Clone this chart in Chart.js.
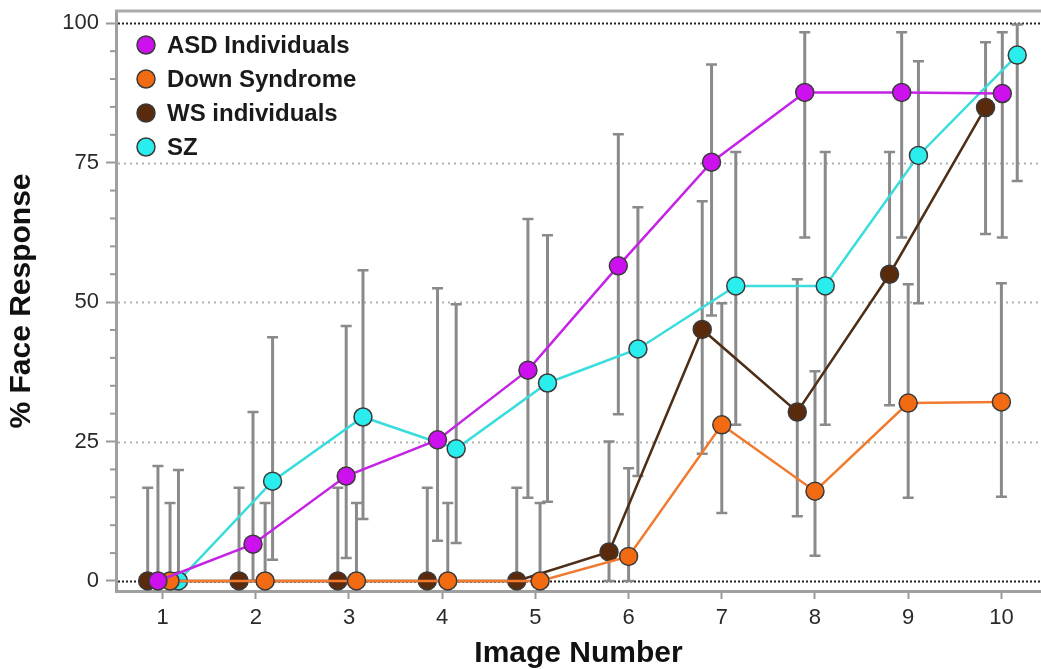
<!DOCTYPE html>
<html>
<head>
<meta charset="utf-8">
<script src="https://cdn.jsdelivr.net/npm/chart.js@4"></script>
<style>
  html, body { margin: 0; padding: 0; background: #fff; }
  #wrap { width: 1041px; height: 669px; }
</style>
</head>
<body>
<div id="wrap"><canvas id="faceChart" width="1041" height="669"></canvas></div>
<script>
// x axis categories
const imageNumbers = [1, 2, 3, 4, 5, 6, 7, 8, 9, 10];
const yMajorTicks = [0, 25, 50, 75, 100];

// ASD Individuals
const asdX = [0.95, 1.97, 2.97, 3.95, 4.92, 5.89, 6.89, 7.89, 8.93, 10.01];
const asdMean = [0, 6.6, 18.8, 25.3, 37.8, 56.5, 75.1, 87.6, 87.6, 87.4];
const asdHigh = [20.6, 30.3, 45.7, 52.5, 64.9, 80.1, 92.6, 98.4, 98.4, 98.4];
const asdLow = [0, 0, 4.1, 7.2, 14.9, 29.9, 47.6, 61.6, 61.6, 61.6];

// Down Syndrome
const dsX = [1.08, 2.10, 3.08, 4.06, 5.05, 6.00, 7.00, 8.00, 9.00, 10.00];
const dsMean = [0, 0, 0, 0, 0, 4.4, 28.0, 16.1, 31.9, 32.1];
const dsHigh = [14.0, 14.0, 14.0, 14.0, 14.0, 20.2, 49.8, 37.6, 53.2, 53.4];
const dsLow = [0, 0, 0, 0, 0, 0, 12.2, 4.5, 14.9, 15.1];

// WS individuals
const wsX = [0.84, 1.82, 2.88, 3.84, 4.80, 5.79, 6.79, 7.81, 8.80, 9.83];
const wsMean = [0, 0, 0, 0, 0, 5.2, 45.1, 30.3, 55.0, 84.9];
const wsHigh = [16.7, 16.7, 16.7, 16.7, 16.7, 25.0, 68.1, 54.1, 76.9, 96.6];
const wsLow = [0, 0, 0, 0, 0, 0, 22.8, 11.6, 31.5, 62.2];

// SZ
const szX = [1.17, 2.18, 3.15, 4.15, 5.13, 6.10, 7.15, 8.11, 9.11, 10.17];
const szMean = [0, 17.9, 29.4, 23.7, 35.5, 41.6, 52.9, 52.9, 76.3, 94.3];
const szHigh = [19.9, 43.7, 55.7, 49.6, 62.0, 67.0, 76.9, 76.9, 93.2, 99.8];
const szLow = [0, 3.8, 11.1, 6.8, 14.2, 18.8, 28.0, 28.0, 49.8, 71.7];

const FONT = '"Liberation Sans", Arial, Helvetica, sans-serif';

function series(label, xs, ys, hi, lo, fill, line) {
    return {
        label: label,
        data: xs.map((x, i) => ({ x: x, y: ys[i] })),
        errHigh: hi,
        errLow: lo,
        borderColor: line,
        borderWidth: 2.5,
        backgroundColor: fill,
        pointBackgroundColor: fill,
        pointBorderColor: "#3a3a3a",
        pointBorderWidth: 1.5,
        pointRadius: 9,
        pointHoverRadius: 9,
        tension: 0
    };
}

// dotted reference lines, minor ticks, frame top and error bars
const backdrop = {
    id: "backdrop",
    beforeDatasetsDraw(chart) {
        const { ctx, chartArea: a, scales: { x, y } } = chart;
        ctx.save();

        yMajorTicks.forEach(v => {
            const py = Math.round(y.getPixelForValue(v)) + 0.5;
            const edge = v === 0 || v === 100;
            ctx.strokeStyle = edge ? "#222" : "#b0b0b0";
            ctx.lineWidth = 2;
            ctx.setLineDash(edge ? [2, 2] : [2, 4]);
            ctx.beginPath();
            ctx.moveTo(a.left + 2, py);
            ctx.lineTo(a.right, py);
            ctx.stroke();
        });
        ctx.setLineDash([]);

        // minor ticks on y axis every 5
        ctx.strokeStyle = "#999";
        ctx.lineWidth = 2;
        for (let v = 5; v < 100; v += 5) {
            if (v % 25 === 0) continue;
            const py = y.getPixelForValue(v);
            ctx.beginPath();
            ctx.moveTo(a.left - 6, py);
            ctx.lineTo(a.left, py);
            ctx.stroke();
        }

        // top frame
        ctx.strokeStyle = "#aaa";
        ctx.lineWidth = 3;
        ctx.beginPath();
        ctx.moveTo(a.left - 1, a.top);
        ctx.lineTo(a.right, a.top);
        ctx.stroke();

        // error bars
        ctx.strokeStyle = "#8a8a8a";
        chart.data.datasets.forEach(ds => {
            ds.data.forEach((p, i) => {
                const px = x.getPixelForValue(p.x);
                const hi = y.getPixelForValue(ds.errHigh[i]);
                const lo = y.getPixelForValue(ds.errLow[i]);
                ctx.lineWidth = 3;
                ctx.beginPath();
                ctx.moveTo(px, hi);
                ctx.lineTo(px, lo);
                ctx.stroke();
                ctx.lineWidth = 2.5;
                ctx.beginPath();
                ctx.moveTo(px - 5.5, hi);
                ctx.lineTo(px + 5.5, hi);
                ctx.moveTo(px - 5.5, lo);
                ctx.lineTo(px + 5.5, lo);
                ctx.stroke();
            });
        });
        ctx.restore();
    }
};

// legend inside the plot, top left
const insideLegend = {
    id: "insideLegend",
    afterDatasetsDraw(chart) {
        const { ctx, chartArea: a } = chart;
        ctx.save();
        ctx.font = "bold 24px " + FONT;
        ctx.textBaseline = "middle";
        ctx.textAlign = "left";
        chart.data.datasets.forEach((ds, i) => {
            const cy = a.top + 34 + i * 34;
            const cx = a.left + 30;
            ctx.beginPath();
            ctx.arc(cx, cy, 9, 0, Math.PI * 2);
            ctx.fillStyle = ds.pointBackgroundColor;
            ctx.fill();
            ctx.lineWidth = 1.5;
            ctx.strokeStyle = "#3a3a3a";
            ctx.stroke();
            ctx.fillStyle = "#1a1a1a";
            ctx.fillText(ds.label, a.left + 51, cy + 1);
        });
        ctx.restore();
    }
};

new Chart(document.getElementById("faceChart"), {
    type: "line",
    data: {
        datasets: [
            series("ASD Individuals", asdX, asdMean, asdHigh, asdLow, "#cc10ee", "#c424e4"),
            series("Down Syndrome", dsX, dsMean, dsHigh, dsLow, "#f26a12", "#f07a30"),
            series("WS individuals", wsX, wsMean, wsHigh, wsLow, "#5a2a0c", "#4e2e16"),
            series("SZ", szX, szMean, szHigh, szLow, "#2aeeee", "#3adcdc")
        ]
    },
    options: {
        responsive: false,
        animation: false,
        layout: { autoPadding: false, padding: { top: 11, right: 0, left: 0, bottom: 0 } },
        plugins: {
            legend: { display: false },
            tooltip: { enabled: false }
        },
        scales: {
            x: {
                type: "linear",
                min: 0.5,
                max: 10.425,
                afterBuildTicks: s => { s.ticks = imageNumbers.map(v => ({ value: v })); },
                afterFit: s => {
                    s.height = 78;
                    s.paddingLeft = 0;
                    s.paddingRight = 0;
                },
                ticks: {
                    color: "#2a2a2a",
                    padding: 6,
                    font: { family: FONT, size: 22 }
                },
                grid: {
                    drawOnChartArea: false,
                    tickLength: 8,
                    tickWidth: 2,
                    tickColor: "#999"
                },
                border: { color: "#a0a0a0", width: 3 },
                title: {
                    display: true,
                    text: "Image Number",
                    color: "#111",
                    padding: { top: 0, bottom: 0 },
                    font: { family: FONT, size: 30, weight: "bold", lineHeight: 1 }
                }
            },
            y: {
                min: -1.8,
                max: 102.2,
                afterBuildTicks: s => { s.ticks = yMajorTicks.map(v => ({ value: v })); },
                afterFit: s => {
                    s.width = 116;
                    s.paddingTop = 0;
                    s.paddingBottom = 0;
                },
                ticks: {
                    color: "#2a2a2a",
                    padding: 7,
                    font: { family: FONT, size: 22 }
                },
                grid: {
                    drawOnChartArea: false,
                    tickLength: 10,
                    tickWidth: 2,
                    tickColor: "#999"
                },
                border: { color: "#a0a0a0", width: 3 },
                title: {
                    display: true,
                    text: "% Face Response",
                    color: "#111",
                    padding: { top: 7, bottom: 0 },
                    font: { family: FONT, size: 30, weight: "bold", lineHeight: 1 }
                }
            }
        }
    },
    plugins: [backdrop, insideLegend]
});
</script>
</body>
</html>
